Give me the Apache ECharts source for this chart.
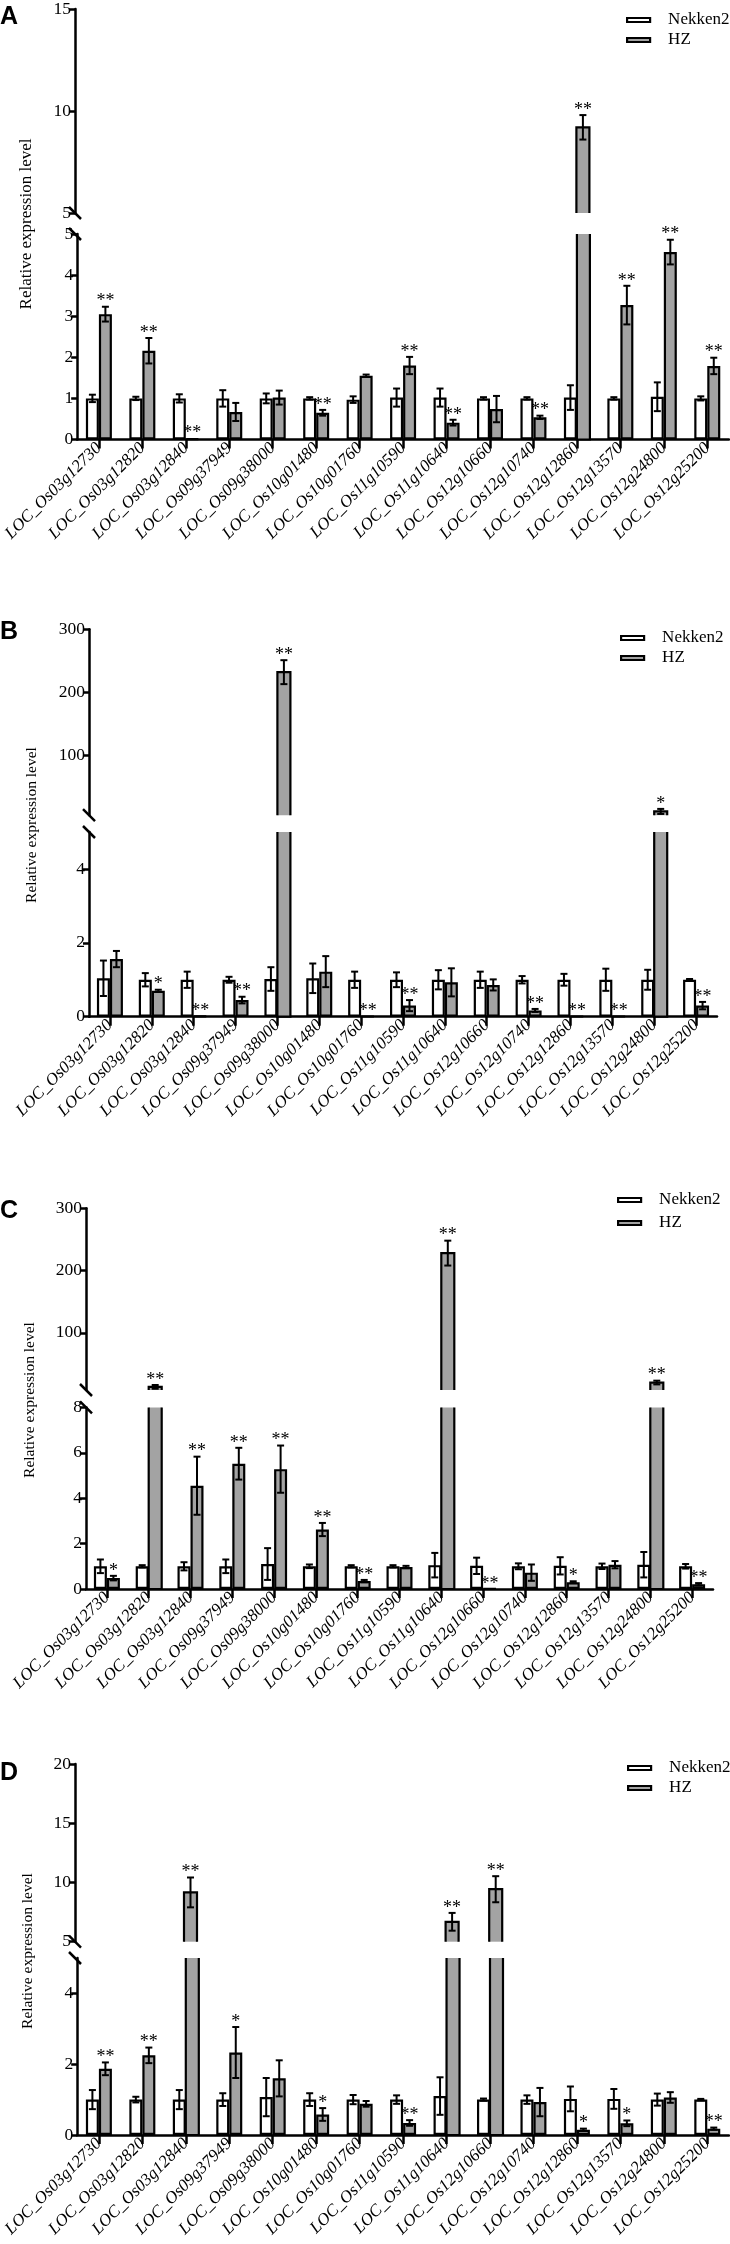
<!DOCTYPE html>
<html><head><meta charset="utf-8">
<script src="https://cdn.jsdelivr.net/npm/echarts@6/dist/echarts.min.js"></script>
<style>html,body{margin:0;padding:0;background:#fff}#c{width:730px;height:2244px}</style>
</head><body><div id="c"></div>
<script>
// ---------------- DATA ----------------
const genes = ['LOC_Os03g12730','LOC_Os03g12820','LOC_Os03g12840','LOC_Os09g37949','LOC_Os09g38000','LOC_Os10g01480','LOC_Os10g01760','LOC_Os11g10590','LOC_Os11g10640','LOC_Os12g10660','LOC_Os12g10740','LOC_Os12g12860','LOC_Os12g13570','LOC_Os12g24800','LOC_Os12g25200'];
const seriesNames = ['Nekken2', 'HZ'];
const yTitle = 'Relative expression level';
const panelLetters = ['A', 'B', 'C', 'D'];

// Panel A
const aNekken    = [1.0, 1.0, 1.0, 1.0, 1.0, 1.0, 0.97, 1.02, 1.02, 1.0, 1.0, 1.02, 1.0, 1.04, 1.0];
const aNekkenErr = [0.09, 0.04, 0.1, 0.2, 0.12, 0.03, 0.08, 0.22, 0.22, 0.03, 0.03, 0.3, 0.03, 0.35, 0.05];
const aHZ        = [3.05, 2.16, 0.02, 0.67, 1.02, 0.65, 1.55, 1.8, 0.41, 0.74, 0.54, 9.2, 3.27, 4.56, 1.79];
const aHZErr     = [0.18, 0.31, 0, 0.22, 0.17, 0.07, 0.03, 0.21, 0.07, 0.32, 0.04, 0.6, 0.47, 0.3, 0.2];
const aSig       = ['**','**','**','','','**','','**','**','','**','**','**','**','**'];
const aUpperTicks = [5, 10, 15];
const aLowerTicks = [0, 1, 2, 3, 4, 5];

// Panel B
const bNekken    = [1.04, 1.0, 1.0, 1.0, 1.02, 1.04, 1.0, 1.0, 1.0, 1.0, 1.0, 1.0, 1.0, 1.0, 1.0];
const bNekkenErr = [0.48, 0.18, 0.22, 0.08, 0.32, 0.4, 0.22, 0.2, 0.26, 0.22, 0.1, 0.16, 0.3, 0.27, 0.02];
const bHZ        = [1.56, 0.7, 0.02, 0.45, 232, 1.22, 0.01, 0.3, 0.93, 0.86, 0.17, 0.01, 0.01, 11, 0.3];
const bHZErr     = [0.22, 0.03, 0, 0.09, 19, 0.42, 0, 0.15, 0.38, 0.15, 0.04, 0, 0, 4, 0.1];
const bSig       = ['','*','**','**','**','','**','**','','','**','**','**','*','**'];
const bUpperTicks = [100, 200, 300];
const bLowerTicks = [0, 2, 4];

// Panel C
const cNekken    = [1.0, 1.0, 1.0, 1.0, 1.1, 1.0, 1.0, 1.0, 1.05, 1.02, 1.0, 1.02, 1.0, 1.07, 1.0];
const cNekkenErr = [0.3, 0.05, 0.18, 0.3, 0.7, 0.08, 0.05, 0.05, 0.54, 0.36, 0.13, 0.38, 0.12, 0.56, 0.1];
const cHZ        = [0.48, 13, 4.55, 5.52, 5.28, 2.62, 0.35, 0.97, 228, 0.01, 0.72, 0.3, 1.07, 20, 0.21];
const cHZErr     = [0.1, 3, 1.28, 0.7, 1.04, 0.29, 0.05, 0.05, 20, 0, 0.36, 0.04, 0.16, 3, 0.05];
const cSig       = ['*','**','**','**','**','**','**','','**','**','','*','','**','**'];
const cUpperTicks = [100, 200, 300];
const cLowerTicks = [0, 2, 4, 6, 8];

// Panel D
const dNekken    = [1.0, 1.0, 1.0, 1.0, 1.07, 1.0, 1.0, 1.0, 1.1, 1.0, 1.0, 1.02, 1.02, 1.0, 1.0];
const dNekkenErr = [0.27, 0.08, 0.27, 0.18, 0.54, 0.18, 0.13, 0.12, 0.53, 0.03, 0.12, 0.35, 0.28, 0.17, 0.02];
const dHZ        = [1.87, 2.25, 9.16, 2.33, 1.6, 0.58, 0.88, 0.34, 6.68, 9.43, 0.93, 0.15, 0.33, 1.06, 0.18];
const dHZErr     = [0.18, 0.22, 1.26, 0.72, 0.51, 0.18, 0.08, 0.08, 0.75, 1.1, 0.4, 0.03, 0.08, 0.15, 0.03];
const dSig       = ['**','**','**','*','','*','','**','**','**','','*','*','','**'];
const dUpperTicks = [5, 10, 15, 20];
const dLowerTicks = [0, 2, 4];

// ---------------- LAYOUT / STYLE ----------------
const FONT_SERIF = '"Liberation Serif", "Times New Roman", serif';
const HALF_BAR = 6.5;
const BAR_COLORS = ['#ffffff', '#a3a3a3'];
const BORDER_W = 2.2;
const panels = [
  { letter: panelLetters[0], n: aNekken, ne: aNekkenErr, h: aHZ, he: aHZErr, sig: aSig,
    upTicks: aUpperTicks, loTicks: aLowerTicks, upRange: [5, 15], loRange: [0, 5],
    left: 75, width: 654, up: [7, 213], lo: [234, 439.5], letterY: 17,
    titleX: 27, titleY: 224, titleSize: 17, legend: [621, 6.5, 3] },
  { letter: panelLetters[1], n: bNekken, ne: bNekkenErr, h: bHZ, he: bHZErr, sig: bSig,
    upTicks: bUpperTicks, loTicks: bLowerTicks, upRange: [5, 300], loRange: [0, 5],
    left: 89, width: 628, up: [629.3, 815.2], lo: [832, 1016.7], letterY: 632,
    titleX: 32, titleY: 825, titleSize: 15.5, legend: [615, 624.5, 3] },
  { letter: panelLetters[2], n: cNekken, ne: cNekkenErr, h: cHZ, he: cHZErr, sig: cSig,
    upTicks: cUpperTicks, loTicks: cLowerTicks, upRange: [8, 300], loRange: [0, 8],
    left: 86, width: 627, up: [1208.3, 1390], lo: [1407.4, 1589], letterY: 1211,
    titleX: 30, titleY: 1400, titleSize: 15.5, legend: [612, 1186.5, 6] },
  { letter: panelLetters[3], n: dNekken, ne: dNekkenErr, h: dHZ, he: dHZErr, sig: dSig,
    upTicks: dUpperTicks, loTicks: dLowerTicks, upRange: [5, 20], loRange: [0, 5],
    left: 75, width: 654, up: [1764, 1941.7], lo: [1958, 2135], letterY: 1773,
    titleX: 28, titleY: 1951, titleSize: 15.5, legend: [622, 1754.5, 3] }
];

function errRender(sigs, floorVal) {
  return function (params, api) {
    const i = api.value(0), v = api.value(1), e = api.value(2), side = api.value(3);
    const base = api.coord([i, v]);
    const x = base[0] + side * HALF_BAR;
    const top = api.coord([i, v + e])[1];
    const bot = api.coord([i, Math.max(v - e, floorVal)])[1];
    const ls = { stroke: '#000', lineWidth: 2 };
    const children = [];
    if (e > 0) {
      children.push({ type: 'line', shape: { x1: x, y1: top, x2: x, y2: bot }, style: ls });
      children.push({ type: 'line', shape: { x1: x - 3.5, y1: top, x2: x + 3.5, y2: top }, style: ls });
      children.push({ type: 'line', shape: { x1: x - 3.5, y1: bot, x2: x + 3.5, y2: bot }, style: ls });
    }
    const s = sigs ? sigs[i] : '';
    if (s) {
      children.push({ type: 'text', x: x, y: Math.min(top, base[1]) + 4,
        style: { text: s, align: 'center', verticalAlign: 'bottom', font: '18px ' + FONT_SERIF, fill: '#000' } });
    }
    return { type: 'group', children: children };
  };
}

// bars that run past a broken-axis segment: drawn open at the cut edge
function cutBarRender(segMin, segMax, isLower) {
  return function (params, api) {
    const i = api.value(0), v = api.value(1), side = api.value(2);
    const b = api.coord([i, segMin]);
    const t = api.coord([i, Math.min(v, segMax)]);
    const xc = b[0] + side * HALF_BAR;
    const x0 = xc - HALF_BAR, x1 = xc + HALF_BAR, yb = b[1], yt = t[1];
    const pts = isLower ? [[x0, yt], [x0, yb], [x1, yb], [x1, yt]] : [[x0, yb], [x0, yt], [x1, yt], [x1, yb]];
    return { type: 'group', children: [
      { type: 'rect', shape: { x: x0, y: yt, width: x1 - x0, height: yb - yt }, style: { fill: BAR_COLORS[side > 0 ? 1 : 0] } },
      { type: 'polyline', shape: { points: pts }, style: { stroke: '#000', lineWidth: BORDER_W, fill: null } }
    ] };
  };
}

const grid = [], xAxis = [], yAxis = [], series = [], legend = [], graphic = [];
const axisLineStyle = { color: '#000', width: 2.5 };

panels.forEach(function (p) {
  const segs = [
    { top: p.up[0], bottom: p.up[1], range: p.upRange, ticks: p.upTicks, lower: false },
    { top: p.lo[0], bottom: p.lo[1], range: p.loRange, ticks: p.loTicks, lower: true }
  ];
  segs.forEach(function (s) {
    const gi = grid.length;
    const isLower = s.lower;
    grid.push({ left: p.left, top: s.top, width: p.width, height: s.bottom - s.top, containLabel: false });
    xAxis.push({
      type: 'category', gridIndex: gi, data: genes, show: isLower,
      axisLine: { show: true, lineStyle: axisLineStyle, onZero: false },
      axisTick: { show: true, alignWithLabel: true, length: 9, lineStyle: { color: '#000', width: 2.5 } },
      axisLabel: { interval: 0, rotate: 45, margin: 6, color: '#000', fontStyle: 'italic', fontFamily: FONT_SERIF, fontSize: 17 }
    });
    const step = s.ticks.length > 1 ? s.ticks[1] - s.ticks[0] : null;
    const even = step && s.range[0] % step === 0 && s.ticks[0] === s.range[0];
    const ya = {
      type: 'value', gridIndex: gi, min: s.range[0], max: s.range[1],
      axisLine: { show: true, lineStyle: axisLineStyle },
      axisTick: { show: true, inside: false, length: 6, lineStyle: { color: '#000', width: 2.5 }, customValues: s.ticks },
      axisLabel: { color: '#000', fontFamily: FONT_SERIF, fontSize: 17.5, margin: 4, customValues: s.ticks },
      splitLine: { show: false }
    };
    if (even) ya.interval = step;
    yAxis.push(ya);

    const groups = [[p.n, p.ne, null, -1], [p.h, p.he, p.sig, 1]];
    groups.forEach(function (g, k) {
      const vals = g[0], errs = g[1], sig = g[2], side = g[3];
      if (isLower) {
        series.push({ type: 'bar', name: seriesNames[k], xAxisIndex: gi, yAxisIndex: gi,
          data: vals.map(function (v) { return v <= s.range[1] ? v : '-'; }),
          barWidth: 13, barGap: '0%',
          itemStyle: { color: BAR_COLORS[k], borderColor: '#000', borderWidth: BORDER_W } });
      }
      const cut = [];
      vals.forEach(function (v, i) {
        if (isLower ? v > s.range[1] : v > s.range[0]) cut.push([i, v, side]);
      });
      if (cut.length) {
        series.push({ type: 'custom', name: 'cut-' + gi + '-' + k, xAxisIndex: gi, yAxisIndex: gi, z: 3,
          renderItem: cutBarRender(s.range[0], s.range[1], isLower), data: cut, encode: { x: 0, y: 1 } });
      }
      const eb = [];
      vals.forEach(function (v, i) {
        const inSeg = isLower ? v <= s.range[1] : v > s.range[0];
        if (inSeg) eb.push([i, v, errs[i], side]);
      });
      if (eb.length) {
        series.push({ type: 'custom', name: 'err-' + gi + '-' + k, xAxisIndex: gi, yAxisIndex: gi, z: 5,
          renderItem: errRender(sig, s.range[0]), data: eb, encode: { x: 0, y: 1 } });
      }
    });
  });

  legend.push({
    data: seriesNames, orient: 'vertical', left: p.legend[0], top: p.legend[1], itemGap: p.legend[2],
    icon: 'rect', itemWidth: 23, itemHeight: 4, selectedMode: false,
    itemStyle: { borderColor: '#000', borderWidth: BORDER_W },
    textStyle: { fontFamily: FONT_SERIF, fontSize: 17, color: '#000', padding: [0, 0, 0, 13], lineHeight: 17 }
  });

  graphic.push({ type: 'text', x: 0, y: p.letterY,
    style: { text: p.letter, font: 'bold 25px "Liberation Sans", Arial, sans-serif', fill: '#000', align: 'left', verticalAlign: 'middle' } });
  graphic.push({ type: 'text', x: p.titleX, y: p.titleY, rotation: Math.PI / 2,
    style: { text: yTitle, font: p.titleSize + 'px ' + FONT_SERIF, fill: '#000', align: 'center', verticalAlign: 'middle' } });
  [p.up[1], p.lo[0]].forEach(function (yy) {
    graphic.push({ type: 'line', shape: { x1: p.left - 6, y1: yy - 6, x2: p.left + 6, y2: yy + 6 },
      style: { stroke: '#000', lineWidth: 2.5 } });
  });
});

const chart = echarts.init(document.getElementById('c'), null, { renderer: 'canvas' });
chart.setOption({
  backgroundColor: '#fff',
  animation: false,
  grid: grid, xAxis: xAxis, yAxis: yAxis, series: series, legend: legend, graphic: graphic
});
</script></body></html>
